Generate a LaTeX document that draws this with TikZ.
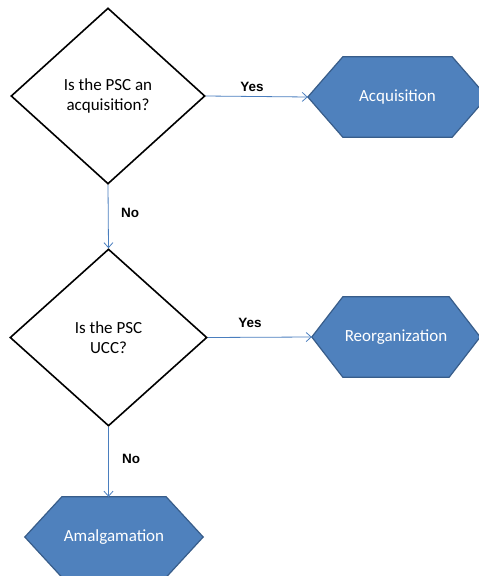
\documentclass[tikz,border=0pt]{standalone}
\usepackage{fontspec}
\setmainfont{Carlito}
\newfontfamily\labelfont{Liberation Sans}
\usetikzlibrary{shapes.geometric,arrows.meta}
\definecolor{hexfill}{RGB}{79,129,189}
\definecolor{hexline}{RGB}{56,93,138}
\definecolor{arrowc}{RGB}{74,126,190}
\tikzset{
  decision/.style={diamond, draw=black, line width=1.6pt, fill=white, align=center,
    inner sep=0pt, font=\fontsize{17}{20}\selectfont},
  result/.style={rectangle, text=white, inner sep=0pt,
    minimum height=80pt, font=\fontsize{17}{20}\selectfont},
  hexshape/.style={draw=hexline, line width=1.2pt, fill=hexfill, line join=miter},
  flow/.style={draw=arrowc, line width=0.8pt, -{Straight Barb[length=5pt,width=9pt]}},
  lbl/.style={font=\labelfont\bfseries\fontsize{13.5}{16}\selectfont, inner sep=0pt}
}
\newcommand{\hexof}[2]{%
  \path[hexshape] (#1.west) -- ([xshift=#2]#1.north west) -- ([xshift=-#2]#1.north east)
    -- (#1.east) -- ([xshift=-#2]#1.south east) -- ([xshift=#2]#1.south west) -- cycle;}
\begin{document}
\begin{tikzpicture}[x=1pt,y=-1pt]
\useasboundingbox (0,0) rectangle (479,576);
\node[decision, minimum width=194pt, minimum height=176pt] (d1) at (108,96) {Is the PSC an\\acquisition?};
\node[decision, minimum width=197pt, minimum height=177pt] (d2) at (108.5,337.5) {Is the PSC\\UCC?};
\node[result, minimum width=179pt] (acq) at (397.5,97) {};
\node[result, minimum width=168pt] (reo) at (396,337) {};
\node[result, minimum width=178pt] (ama) at (114,537) {};
\hexof{acq}{35pt}
\hexof{reo}{31pt}
\hexof{ama}{37pt}
\node[result] (acqt) at (acq.center) {Acquisition};
\node[result] (reot) at (reo.center) {Reorganization};
\node[result] (amat) at (ama.center) {Amalgamation};
\draw[flow] (d1.east) -- (acq.west);
\draw[flow] (d2.east) -- (reo.west);
\draw[flow] (d1.south) -- (d2.north);
\draw[flow] (d2.south) -- (ama.north -| d2.south);
\node[lbl] (y1) at (252,87) {Yes};
\node[lbl] (y2) at (250,323) {Yes};
\node[lbl] (n1) at (130,213) {No};
\node[lbl] (n2) at (131,459) {No};
\end{tikzpicture}
\end{document}
